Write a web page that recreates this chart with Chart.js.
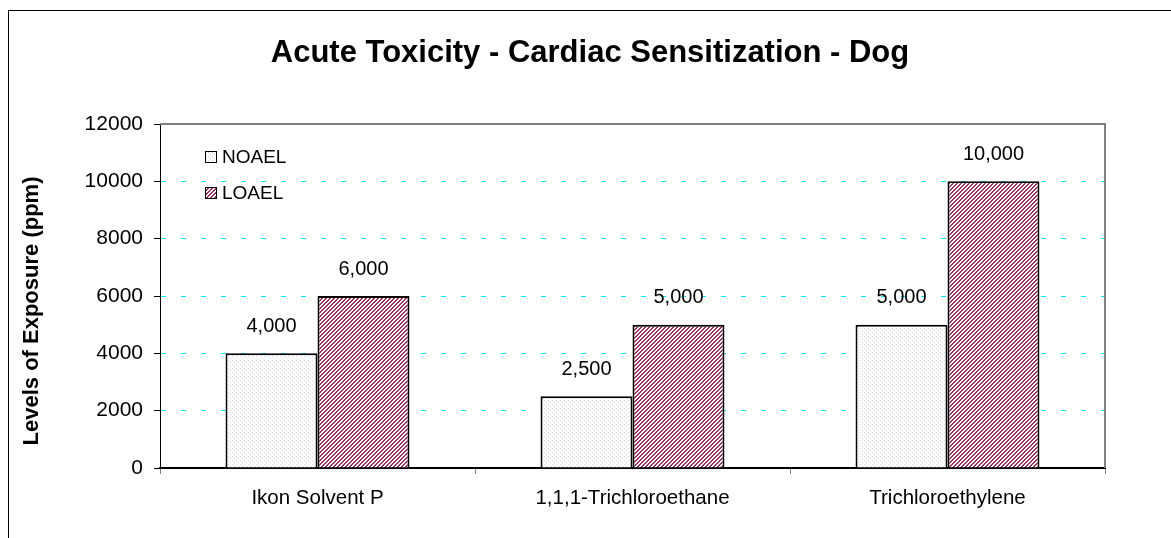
<!DOCTYPE html>
<html>
<head>
<meta charset="utf-8">
<script src="https://cdn.jsdelivr.net/npm/chart.js@4.4.1/dist/chart.umd.min.js"></script>
<style>
  html, body { margin: 0; padding: 0; background: #fff; }
  canvas { display: block; }
</style>
</head>
<body>
<canvas id="chart" width="1171" height="538"></canvas>
<script>
const categories = ['Ikon Solvent P', '1,1,1-Trichloroethane', 'Trichloroethylene'];
const noael = [4000, 2500, 5000];
const loael = [6000, 5000, 10000];
const yTicks = [0, 2000, 4000, 6000, 8000, 10000, 12000];

const FONT = '"Liberation Sans", Arial, sans-serif';

function dotPattern() {
  const c = document.createElement('canvas');
  c.width = 4; c.height = 4;
  const g = c.getContext('2d');
  g.fillStyle = '#ffffff';
  g.fillRect(0, 0, 4, 4);
  g.fillStyle = '#d4d4f4';
  g.fillRect(0, 0, 1, 1);
  g.fillRect(2, 2, 1, 1);
  return g.createPattern(c, 'repeat');
}

function stripePattern() {
  const c = document.createElement('canvas');
  c.width = 4; c.height = 4;
  const g = c.getContext('2d');
  g.fillStyle = '#ffffff';
  g.fillRect(0, 0, 4, 4);
  g.fillStyle = '#993366';
  for (let i = 0; i < 4; i++) {
    g.fillRect(i, 3 - i, 1, 1);
    g.fillRect((i + 1) % 4, 3 - i, 1, 1);
  }
  return g.createPattern(c, 'repeat');
}

const fills = [dotPattern(), stripePattern()];

// frame, titles, value labels, legend
const decorations = {
  id: 'decorations',
  beforeDraw(chart) {
    const ctx = chart.ctx;
    ctx.save();
    ctx.fillStyle = '#fff';
    ctx.fillRect(0, 0, chart.width, chart.height);
    ctx.strokeStyle = '#000';
    ctx.lineWidth = 1;
    ctx.strokeRect(8.5, 10.5, chart.width + 20, chart.height + 20);
    ctx.restore();
  },
  afterDatasetsDraw(chart) {
    const ctx = chart.ctx;
    const a = chart.chartArea;
    ctx.save();
    ctx.strokeStyle = '#808080';
    ctx.lineWidth = 2;
    ctx.beginPath();
    ctx.moveTo(a.left, a.top);
    ctx.lineTo(a.right, a.top);
    ctx.lineTo(a.right, a.bottom);
    ctx.stroke();

    ctx.fillStyle = '#000';
    ctx.textAlign = 'center';
    ctx.textBaseline = 'middle';
    ctx.font = 'bold 31px ' + FONT;
    ctx.fillText('Acute Toxicity - Cardiac Sensitization - Dog', 590, 53);

    // y axis title
    ctx.save();
    ctx.translate(32, 311);
    ctx.rotate(-Math.PI / 2);
    ctx.font = 'bold 22px ' + FONT;
    ctx.fillText('Levels of Exposure (ppm)', 0, 0);
    ctx.restore();

    // value labels
    ctx.font = '20px ' + FONT;
    chart.data.datasets.forEach((ds, di) => {
      chart.getDatasetMeta(di).data.forEach((bar, i) => {
        ctx.fillText(ds.data[i].toLocaleString('en-US'), bar.x, bar.y - 27);
      });
    });

    // legend
    ctx.font = '19px ' + FONT;
    ctx.textAlign = 'left';
    chart.data.datasets.forEach((ds, di) => {
      const y = 157 + di * 36;
      ctx.fillStyle = ds.backgroundColor;
      ctx.fillRect(205, y - 6, 12, 12);
      ctx.strokeStyle = '#000';
      ctx.lineWidth = 1;
      ctx.strokeRect(205.5, y - 5.5, 11, 11);
      ctx.fillStyle = '#000';
      ctx.fillText(ds.label, 222, y + 1);
    });
    ctx.restore();
  }
};

Chart.defaults.font.family = FONT;
Chart.defaults.color = '#000';

new Chart(document.getElementById('chart'), {
  type: 'bar',
  data: {
    labels: categories,
    datasets: [
      { label: 'NOAEL', data: noael, backgroundColor: fills[0], borderColor: '#000', borderWidth: 2, borderSkipped: 'bottom' },
      { label: 'LOAEL', data: loael, backgroundColor: fills[1], borderColor: '#000', borderWidth: 2, borderSkipped: 'bottom' }
    ]
  },
  options: {
    responsive: false,
    animation: false,
    layout: { padding: { top: 124, right: 66, left: 0, bottom: 0 } },
    datasets: { bar: { categoryPercentage: 0.584, barPercentage: 1 } },
    plugins: {
      legend: { display: false },
      title: { display: false },
      tooltip: { enabled: false }
    },
    scales: {
      x: {
        offset: true,
        grid: { offset: true, drawOnChartArea: false, drawTicks: true, tickLength: 6, tickColor: '#808080', tickWidth: 1 },
        border: { color: '#000', width: 2 },
        ticks: { font: { size: 20.5 }, padding: 12, maxRotation: 0 },
        afterFit(s) { s.height = 70; }
      },
      y: {
        min: 0,
        max: 12000,
        afterBuildTicks(s) { s.ticks = yTicks.map(v => ({ value: v })); },
        grid: {
          color: ctx => (ctx.tick && ctx.tick.value > 0 && ctx.tick.value < 12000) ? '#00e8ff' : 'rgba(0,0,0,0)',
          lineWidth: 1,
          tickColor: '#000',
          tickLength: 6,
          tickBorderDash: []
        },
        border: { color: '#000', width: 1, dash: [5, 15] },
        ticks: { font: { size: 21 }, padding: 11, callback: v => String(v) },
        title: { display: false },
        afterFit(s) { s.width = 160; }
      }
    }
  },
  plugins: [decorations]
});
</script>
</body>
</html>
